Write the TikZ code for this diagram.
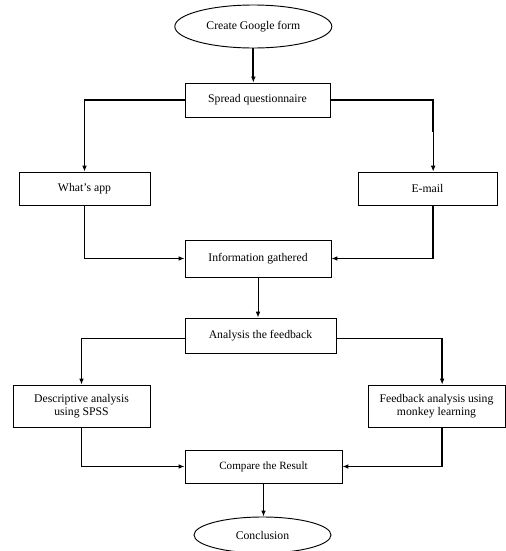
\documentclass[tikz,border=0pt]{standalone}
\usepackage{fontspec}
\setmainfont{Liberation Serif}
\usepackage{tikz}
\usetikzlibrary{
  positioning, shapes, shapes.geometric,
  arrows.meta, calc
}
\tikzset{
  procbox/.style={
    draw, line width=0.8pt, fill=white, inner sep=1pt,
    minimum width=#1, align=center, font=\fontsize{10}{11}\selectfont
  },
  terminal/.style={
    ellipse, draw, line width=0.8pt, inner sep=0pt,
    minimum width=#1, align=center, font=\fontsize{10}{11}\selectfont
  },
  arrow/.style={-{Latex[length=5pt,width=4pt]}, line width=1.5pt},
  thinarrow/.style={-{Latex[length=5pt,width=4pt]}, line width=0.8pt}
}
\begin{document}
\begin{tikzpicture}
\useasboundingbox (0,0) rectangle (15.18,-16.53);

%% Start and survey
\node[terminal=4.71cm, minimum height=1.29cm] (form) at (7.6,-0.795) {Create Google form};
\node[procbox=4.35cm, minimum height=1.02cm] (spread) at (7.725,-3.0) {Spread questionnaire};

%% Channels
\node[procbox=3.93cm, minimum height=0.99cm] (whatsapp) at (2.535,-5.655) {What's app};
\node[procbox=4.17cm, minimum height=0.99cm] (email) at (12.825,-5.655) {E-mail};
\node[procbox=4.38cm, minimum height=1.11cm] (info) at (7.74,-7.755) {Information gathered};

%% Analysis
\node[procbox=4.53cm, minimum height=1.05cm] (analysis) at (7.815,-10.065) {Analysis the feedback};
\node[procbox=4.11cm, minimum height=1.26cm] (desc) at (2.445,-12.18) {Descriptive analysis\\using SPSS};
\node[procbox=4.11cm, minimum height=1.26cm] (feed) at (13.095,-12.18) {Feedback analysis using\\monkey learning};
\node[procbox=4.71cm, minimum height=0.99cm, font=\fontsize{9.5}{11}\selectfont] (compare) at (7.905,-13.995) {Compare the Result};
\node[terminal=4.11cm, minimum height=1.08cm] (concl) at (7.875,-16.05) {Conclusion};

%% Connectors
\draw[arrow] (form) -- (form |- spread.north);
\draw[line width=1.5pt] (spread.west) -| ($(whatsapp.north)+(0,1.2)$);
\draw[thinarrow] ($(whatsapp.north)+(0,1.2)$) -- (whatsapp.north);
\draw[line width=1.5pt] (spread.east) -| ($(email.north)+(0.17,1.2)$);
\draw[thinarrow] ($(email.north)+(0.17,1.2)$) -- ($(email.north)+(0.17,0)$);
\draw[arrow] (whatsapp.south) |- (info.west);
\draw[arrow] ($(email.south)+(0.17,0)$) |- (info.east);
\draw[thinarrow] (info.south) -- (info.south |- analysis.north);
\draw[arrow] ($(analysis.west)+(0,-0.09)$) -| (desc.north);
\draw[arrow] ($(analysis.east)+(0,-0.09)$) -| ($(feed.north)+(0.17,0)$);
\draw[arrow] (desc.south) |- (compare.west);
\draw[arrow] ($(feed.south)+(0.17,0)$) |- (compare.east);
\draw[arrow] (compare.south) -- (compare.south |- concl.north);
\end{tikzpicture}
\end{document}
